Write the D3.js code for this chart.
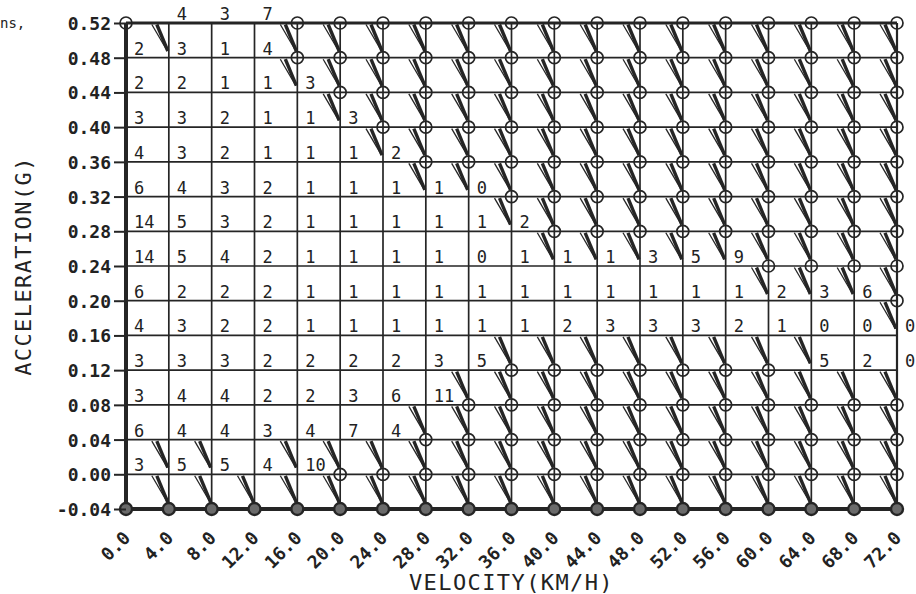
<!DOCTYPE html>
<html>
<head>
<meta charset="utf-8">
<script src="https://cdn.jsdelivr.net/npm/d3@7/dist/d3.min.js"></script>
<style>
  body { margin: 0; background: #fff; }
  text { font-family: "DejaVu Sans Mono", monospace; fill: #222; }
</style>
</head>
<body>
<div class="chart"></div>
<script>
// column edges (km/h); the last one (72) also holds the counts printed right of the frame
const velocityTicks = [0, 4, 8, 12, 16, 20, 24, 28, 32, 36, 40, 44, 48, 52, 56, 60, 64, 68, 72];
const accelTicks = [-0.04, 0.00, 0.04, 0.08, 0.12, 0.16, 0.20, 0.24, 0.28, 0.32, 0.36, 0.40, 0.44, 0.48, 0.52];

// lower edge of each acceleration band, top band first
const accelBands = [0.52, 0.48, 0.44, 0.40, 0.36, 0.32, 0.28, 0.24, 0.20, 0.16, 0.12, 0.08, 0.04, 0.00, -0.04];

// counts per band, one slot per velocity column (null = empty)
const _ = null;
const countRows = [
    [_, 4, 3, 7],
    [2, 3, 1, 4],
    [2, 2, 1, 1, 3],
    [3, 3, 2, 1, 1, 3],
    [4, 3, 2, 1, 1, 1, 2],
    [6, 4, 3, 2, 1, 1, 1, 1, 0],
    [14, 5, 3, 2, 1, 1, 1, 1, 1, 2],
    [14, 5, 4, 2, 1, 1, 1, 1, 0, 1, 1, 1, 3, 5, 9],
    [6, 2, 2, 2, 1, 1, 1, 1, 1, 1, 1, 1, 1, 1, 1, 2, 3, 6],
    [4, 3, 2, 2, 1, 1, 1, 1, 1, 1, 2, 3, 3, 3, 2, 1, 0, 0, 0],
    [3, 3, 3, 2, 2, 2, 2, 3, 5, _, _, _, _, _, _, _, 5, 2, 0],
    [3, 4, 4, 2, 2, 3, 6, 11],
    [6, 4, 4, 3, 4, 7, 4],
    [3, 5, 5, 4, 10],
    []
];

// hatched cells (x) for the bands 0.48 down to -0.04, 18 columns each
const hatchRows = [
    "x..xxxxxxxxxxxxxxx",
    "...xxxxxxxxxxxxxxx",
    "....xxxxxxxxxxxxxx",
    ".....xxxxxxxxxxxxx",
    "......xxxxxxxxxxxx",
    "........xxxxxxxxxx",
    ".........xxxxxxxxx",
    "..............xxxx",
    ".................x",
    "........xxxxxxxx..",
    ".......xxxxxxxxxxx",
    "......xxxxxxxxxxxx",
    "xx.xxxxxxxxxxxxxxx",
    "xxxxxxxxxxxxxxxxxx"
];

const width = 916;
const height = 594;
const margin = {top: 23, right: 19, bottom: 85, left: 126};
const ink = "#252525";

const svg = d3.select(".chart")
    .append("svg")
    .attr("width", width)
    .attr("height", height);

const x = d3.scaleLinear()
    .domain([0, 72])
    .range([margin.left, width - margin.right]);

const y = d3.scaleLinear()
    .domain([-0.04, 0.52])
    .range([height - margin.bottom, margin.top]);

// grid
svg.append("g")
    .selectAll("line")
    .data(velocityTicks)
    .enter()
    .append("line")
    .attr("x1", d => x(d)).attr("x2", d => x(d))
    .attr("y1", y(-0.04)).attr("y2", y(0.52))
    .attr("stroke", ink)
    .attr("stroke-width", 1.7);

svg.append("g")
    .selectAll("line")
    .data(accelTicks)
    .enter()
    .append("line")
    .attr("x1", x(0)).attr("x2", x(72))
    .attr("y1", d => y(d)).attr("y2", d => y(d))
    .attr("stroke", ink)
    .attr("stroke-width", 1.7);

// heavier frame
const frame = [
    {x1: 0, y1: -0.04, x2: 0, y2: 0.52, w: 4},
    {x1: 0, y1: -0.04, x2: 72, y2: -0.04, w: 4},
    {x1: 0, y1: 0.52, x2: 72, y2: 0.52, w: 3},
    {x1: 72, y1: -0.04, x2: 72, y2: 0.52, w: 2.2}
];
svg.append("g")
    .selectAll("line")
    .data(frame)
    .enter()
    .append("line")
    .attr("x1", d => x(d.x1)).attr("x2", d => x(d.x2))
    .attr("y1", d => y(d.y1)).attr("y2", d => y(d.y2))
    .attr("stroke", ink)
    .attr("stroke-width", d => d.w);

// hatch marks
const hatches = [];
hatchRows.forEach((row, r) => {
    row.split("").forEach((f, c) => {
        if (f === "x") hatches.push({v: velocityTicks[c + 1], a: accelBands[r + 1] + 0.04});
    });
});

const hg = svg.append("g");
hatches.forEach(d => {
    const xr = x(d.v), yt = y(d.a);
    hg.append("path")
        .attr("d", `M${xr - 17},${yt + 1.5}L${xr - 1.5},${yt + 28}`)
        .attr("stroke", ink).attr("stroke-width", 1.3).attr("fill", "none");
    hg.append("path")
        .attr("d", `M${xr - 12},${yt + 1.5}L${xr - 1},${yt + 28}`)
        .attr("stroke", ink).attr("stroke-width", 3.4).attr("fill", "none");
});

// circles at lower-left corner of each empty cell
const rings = [];
accelBands.forEach((a, r) => {
    velocityTicks.forEach((v, c) => {
        const val = countRows[r][c];
        if (val === undefined || val === null) rings.push({v: v, a: a});
    });
});

svg.append("g")
    .selectAll("circle")
    .data(rings)
    .enter()
    .append("circle")
    .attr("cx", d => x(d.v))
    .attr("cy", d => y(d.a))
    .attr("r", 6)
    .attr("fill", d => d.a < 0 ? "#6a6a6a" : "none")
    .attr("stroke", ink)
    .attr("stroke-width", d => d.a < 0 ? 2.4 : 1.7);

// counts
const cells = [];
countRows.forEach((row, r) => {
    row.forEach((val, c) => {
        if (val !== null && val !== undefined) cells.push({v: velocityTicks[c], a: accelBands[r], n: val});
    });
});

svg.append("g")
    .selectAll("text")
    .data(cells)
    .enter()
    .append("text")
    .attr("x", d => x(d.v) + 8)
    .attr("y", d => y(d.a) - 3)
    .style("font-size", "17px")
    .text(d => d.n);

// axes
const yAxis = svg.append("g")
    .attr("transform", `translate(${margin.left}, 0)`)
    .call(d3.axisLeft(y).tickValues(accelTicks).tickFormat(d => d.toFixed(2)).tickSize(12).tickPadding(3));
yAxis.select(".domain").remove();
yAxis.selectAll("line").attr("stroke", ink).attr("stroke-width", 2);
yAxis.selectAll("text")
    .style("font-size", "18px")
    .style("font-weight", "bold")
    .attr("dy", "0.36em");

const xAxis = svg.append("g")
    .attr("transform", `translate(0, ${y(-0.04)})`)
    .call(d3.axisBottom(x).tickValues(velocityTicks).tickFormat(d => d.toFixed(1)).tickSize(0));
xAxis.select(".domain").remove();
xAxis.selectAll("text")
    .attr("y", 0)
    .attr("dy", 0)
    .attr("text-anchor", "end")
    .attr("transform", "translate(5,30) rotate(-45)")
    .style("font-size", "18px")
    .style("font-weight", "bold");

svg.append("text")
    .attr("x", (x(0) + x(72)) / 2)
    .attr("y", 590)
    .attr("text-anchor", "middle")
    .style("font-size", "22px")
    .style("letter-spacing", "1.4px")
    .text("VELOCITY(KM/H)");

svg.append("text")
    .attr("transform", `translate(31, ${(y(-0.04) + y(0.52)) / 2}) rotate(-90)`)
    .attr("text-anchor", "middle")
    .style("font-size", "22px")
    .style("letter-spacing", "1.4px")
    .text("ACCELERATION(G)");

svg.append("text")
    .attr("x", 0)
    .attr("y", 28)
    .style("font-size", "14px")
    .text("ns,");
</script>
</body>
</html>
